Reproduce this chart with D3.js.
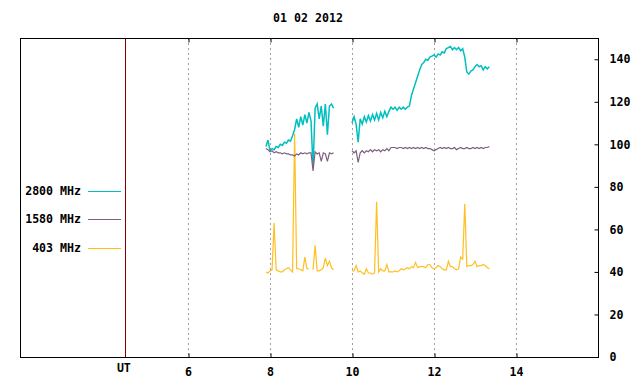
<!DOCTYPE html>
<html>
<head>
<meta charset="utf-8">
<script src="https://cdn.jsdelivr.net/npm/d3@7"></script>
<style>
body{margin:0;background:#fff;}
text{font-family:"DejaVu Sans Mono",monospace;font-weight:bold;font-size:11.6px;fill:#000;}
</style>
</head>
<body>
<svg id="svg_canvas" width="640" height="384"></svg>
<script>

// chart values
var title_text="01 02 2012";
var hour_ticks=[6,8,10,12,14];
var value_ticks=[0,20,40,60,80,100,120,140];
var series_names=["2800 MHz","1580 MHz","403 MHz"];
var series_colors=["#00bfbf","#7f5f7f","#ffbf1f"];

// morning block and afternoon block (hours UT)
var times_a=[7.90,7.95,8.00,8.05,8.10,8.15,8.20,8.25,8.30,8.35,8.40,8.45,8.50,8.55,8.60,8.65,8.70,8.75,8.80,8.85,8.90,8.95,9.00,9.05,9.10,9.15,9.20,9.25,9.30,9.35,9.40,9.45,9.50,9.55];
var times_b=[10.00,10.05,10.10,10.15,10.20,10.25,10.30,10.35,10.40,10.45,10.50,10.55,10.60,10.65,10.70,10.75,10.80,10.85,10.90,10.95,
	11.00,11.05,11.10,11.15,11.20,11.25,11.30,11.35,11.40,11.45,11.50,11.55,11.60,11.65,11.70,11.75,11.80,11.85,11.90,11.95,
	12.00,12.05,12.10,12.15,12.20,12.25,12.30,12.35,12.40,12.45,12.50,12.55,12.60,12.65,12.70,12.75,12.80,12.85,12.90,12.95,
	13.00,13.05,13.10,13.15,13.20,13.25,13.30,13.35];

var flux2800_a=[99,102,97,98,97.5,99,98.5,100,99.5,101,100.5,102,101.5,104,107,112,108,113,109,114,110,115,111,89,117,119,112,118,108.5,119,104.5,118,119,117];
var flux2800_b=[110,113,109.5,101,112,109.5,113,110.5,113.5,111,114,111.5,114.5,111.5,115,112.5,115.5,113,115.5,117.5,
	116.5,117.5,116,117.5,116.5,117.5,116.5,117.5,118,123,126,129,132,135,137.5,138.5,140,139.5,141,141.5,
	142,141,142.5,142,143.5,143,145,145.5,146,144.5,145.5,144.5,145.5,144,145,141,134,133,134.5,135,
	136.5,137.5,136.5,137,135,136.5,135.5,136.5];

var flux1580_a=[98,97.5,96.5,97,96,96.5,96,96,95.5,96,95.5,95.5,95,95,94.5,95.5,95,96,95.5,96,95.5,96,96,87.5,96.5,95.5,96,92,96,95.5,92,96,95.5,96];
var flux1580_b=[97,96,97,91.5,96,97,96,97,96.5,97.5,96.5,97.5,97,97.5,96.5,97.5,97,98,97,98.5,
	98.5,98.5,98,98.5,98.5,98,98.5,98,98.5,98,98.5,98,98.5,98,98.5,98,98.5,98,98,97.5,
	97,97.5,98,98.5,98,98.5,98,98.5,98,98,98.5,97.5,98,98.5,98,98,98.5,98,98,98.5,
	98,98.5,98,98.5,98,98.5,98.5,99];

var flux403_a=[40,39.5,40.5,41,63,41,40.5,40,40,41,41.5,42,41,40,105,41.5,41.5,41,40.5,47,41.5,41.5,null,41,52.5,40.5,40.5,41,42,46.5,43,45,42,41];
var flux403_b=[40.5,40.5,43,40,40.5,39.5,39,41.5,39.5,39.5,39,39.5,73,40,41.5,40.5,40.5,43.5,40,40,
	40,40.5,40,40.5,41.5,41,41.5,42,41.5,42.5,42,44.5,42,42.5,42.5,42.5,42,43.5,43.5,42,
	41.5,42,43,42.5,41.5,41,41,45,42.5,42.5,41.5,41,41.5,47,46,72,42.5,43,43,43.5,
	45,42.5,43,43,43.5,43,42,41.5];

var ut_hour=4.46;


function draw(){

	var svg=d3.select("#svg_canvas");
	var left_x=20, right_x=598, top_y=38, bottom_y=357;

	var x=d3.scaleLinear().domain([1.902,16]).range([left_x,right_x]);
	var y=d3.scaleLinear().domain([0,150]).range([bottom_y,top_y]);

	// dotted hour grid
	svg.selectAll("line.grid").data(hour_ticks).enter().append("line")
		.attr("class","grid")
		.attr("x1",function(d){return Math.round(x(d))+0.5;})
		.attr("x2",function(d){return Math.round(x(d))+0.5;})
		.attr("y1",top_y).attr("y2",bottom_y)
		.attr("stroke","#a0a0a0")
		.attr("stroke-dasharray","2,3");

	// bottom axis, ticks inside
	var x_axis=d3.axisBottom(x).tickValues(hour_ticks).tickSize(-4).tickPadding(10).tickFormat(d3.format("d"));
	var gx=svg.append("g").attr("transform","translate(0,"+(bottom_y+0.5)+")").call(x_axis);
	gx.select(".domain").remove();
	gx.selectAll("line").attr("stroke","#000").attr("transform","translate(0.5,0)");
	gx.selectAll("text").attr("dy","0.71em");

	// top ticks
	var gt=svg.append("g").attr("transform","translate(0,"+(top_y+0.5)+")").call(d3.axisTop(x).tickValues(hour_ticks).tickSize(-4).tickFormat(""));
	gt.select(".domain").remove();
	gt.selectAll("line").attr("stroke","#000").attr("transform","translate(0.5,0)");

	// right axis
	var y_axis=d3.axisRight(y).tickValues(value_ticks).tickSize(-4).tickPadding(11);
	var gy=svg.append("g").attr("transform","translate("+(right_x+0.5)+",0)").call(y_axis);
	gy.select(".domain").remove();
	gy.selectAll("line").attr("stroke","#000");

	// let the css font win over the axis defaults
	svg.selectAll("g").filter(function(){return this.getAttribute("font-family");}).attr("font-family",null).attr("font-size",null);

	// frame
	svg.append("rect")
		.attr("x",left_x+0.5).attr("y",top_y+0.5)
		.attr("width",right_x-left_x).attr("height",bottom_y-top_y)
		.attr("fill","none").attr("stroke","#000");

	// UT marker
	svg.append("line")
		.attr("x1",Math.round(x(ut_hour))+0.5).attr("x2",Math.round(x(ut_hour))+0.5)
		.attr("y1",top_y+1).attr("y2",bottom_y)
		.attr("stroke","#800000");
	svg.append("text").attr("x",x(ut_hour)-1).attr("y",bottom_y+15).attr("text-anchor","middle").text("UT");

	svg.append("text").attr("x",308).attr("y",22).attr("text-anchor","middle").text(title_text);

	// series
	var line=d3.line()
		.defined(function(d){return d[1]!=null;})
		.x(function(d){return x(d[0]);})
		.y(function(d){return y(d[1]);});

	var blocks=[
		[flux2800_a,flux2800_b],
		[flux1580_a,flux1580_b],
		[flux403_a,flux403_b]
	];
	var draw_order=[2,0,1];

	draw_order.forEach(function(k){
		var pts_a=d3.zip(times_a,blocks[k][0]);
		var pts_b=d3.zip(times_b,blocks[k][1]);
		[pts_a,pts_b].forEach(function(pts){
			svg.append("path")
				.datum(pts)
				.attr("d",line)
				.attr("fill","none")
				.attr("stroke",series_colors[k])
				.attr("stroke-width",k==0?1.5:1.2);
		});
	});

	// legend
	var legend_y=[191,219,248];
	var leg=svg.selectAll("g.legend").data(series_names).enter().append("g").attr("class","legend");
	leg.append("text")
		.attr("x",81).attr("y",function(d,i){return legend_y[i]+4;})
		.attr("text-anchor","end")
		.text(function(d){return d;});
	leg.append("line")
		.attr("x1",88).attr("x2",121)
		.attr("y1",function(d,i){return legend_y[i]+0.5;})
		.attr("y2",function(d,i){return legend_y[i]+0.5;})
		.attr("stroke",function(d,i){return series_colors[i];});
}

draw();
</script>
</body>
</html>
